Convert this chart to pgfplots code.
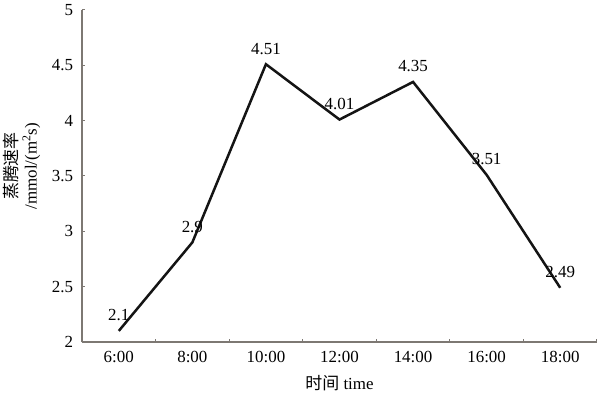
\documentclass[border=0pt]{standalone}
\usepackage{pgfplots}
\pgfplotsset{compat=1.18}
\usepackage{fontspec}
\setmainfont{Liberation Serif}
\newfontfamily\cjk{Noto Sans CJK SC}
\definecolor{axgray}{RGB}{125,120,115}
\definecolor{linec}{RGB}{20,20,20}
\begin{document}
\fontsize{17}{20}\selectfont
\begin{tikzpicture}
\path[use as bounding box] (-82bp,-55bp) rectangle (520bp,342bp);
\begin{axis}[
  scale only axis,
  width=515bp, height=332bp,
  xmin=-0.5, xmax=6.5,
  ymin=2, ymax=5,
  axis x line=bottom, axis y line=left,
  axis line style={draw=axgray, line width=1.1bp, -},
  xtick={0,1,2,3,4,5,6},
  xticklabels={6:00,8:00,10:00,12:00,14:00,16:00,18:00},
  minor xtick={0.5,1.5,2.5,3.5,4.5,5.5,6.5},
  ytick={2,2.5,3,3.5,4,4.5,5},
  tick align=inside,
  major tick length=3bp, minor tick length=3bp,
  xtick style={draw=none},
  minor x tick style={draw=axgray, line width=1bp},
  ytick style={draw=axgray, line width=1bp},
  /pgf/number format/assume math mode=true,
  tick label style={font=\fontsize{17}{20}\selectfont},
  yticklabel style={xshift=-3bp},
  xticklabel style={yshift=-3bp},
  xlabel={{\cjk 时间} time},
  xlabel style={at={(axis description cs:0.5,0)}, anchor=center, yshift=-41bp, font=\fontsize{17}{20}\selectfont},
  ylabel={{\cjk 蒸腾速率}\\/mmol/(m\textsuperscript{2}s)},
  ylabel style={at={(axis description cs:-0.117,0.53)}, anchor=center, align=center, font=\fontsize{17}{19}\selectfont},
  nodes near coords,
  point meta=explicit symbolic,
  every node near coord/.append style={anchor=south, yshift=3bp, font=\fontsize{17}{20}\selectfont, text=black},
  clip=false,
]
\addplot[linec, line width=2.5bp, mark=none] coordinates {
  (0,2.1) [2.1]
  (1,2.9) [2.9]
  (2,4.51) [4.51]
  (3,4.01) [4.01]
  (4,4.35) [4.35]
  (5,3.51) [3.51]
  (6,2.49) [2.49]
};
\end{axis}
\end{tikzpicture}
\end{document}
